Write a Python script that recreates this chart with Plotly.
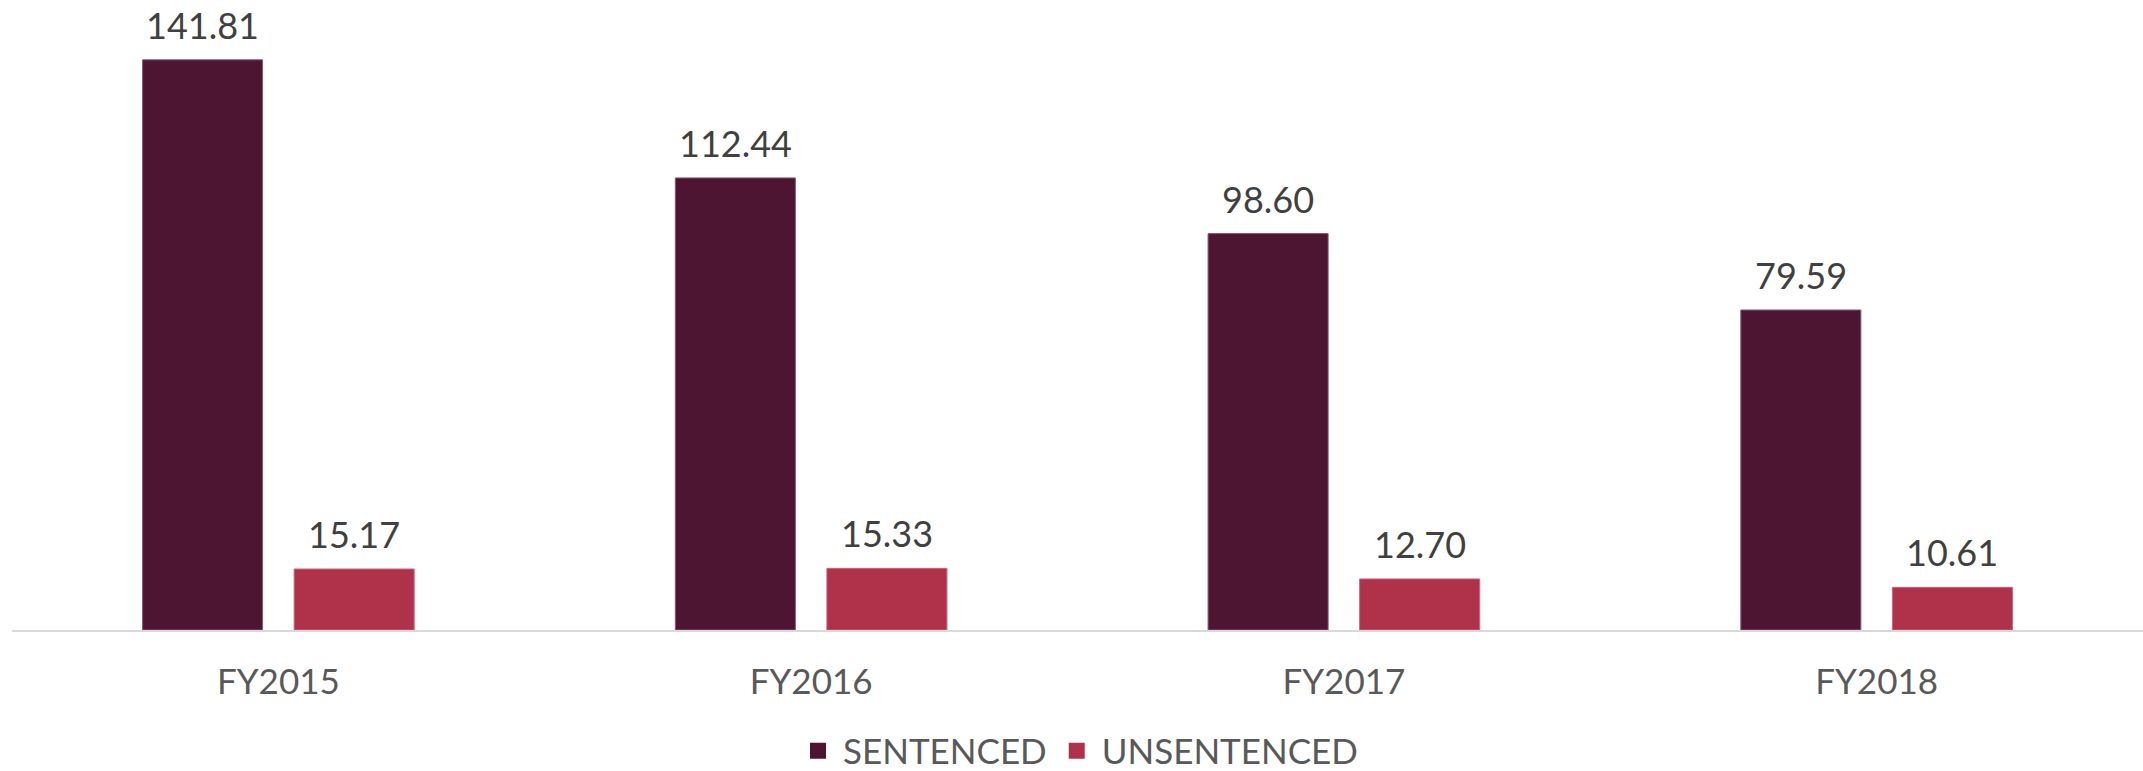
import plotly.graph_objects as go

categories = ["FY2015", "FY2016", "FY2017", "FY2018"]
sentenced = [141.81, 112.44, 98.60, 79.59]
unsentenced = [15.17, 15.33, 12.70, 10.61]
series_names = ["SENTENCED", "UNSENTENCED"]
series_colors = ["#4E1533", "#B0314A"]
edge_colors = ["#8a5a72", "#c9667a"]

FONT = "Lato"
BARGAP = 0.431
GROUPGAP = 0.208
W, H = 2143, 771
ML, MR, MT, MB = 12, 0, 10, 141

fig = go.Figure()
for name, vals, col, edge in zip(series_names, [sentenced, unsentenced], series_colors, edge_colors):
    fig.add_trace(go.Bar(
        x=categories, y=vals, name=name, showlegend=False,
        marker=dict(color=col, line=dict(color=edge, width=1)),
    ))
# legend entries with larger square swatches
for name, col in zip(series_names, series_colors):
    fig.add_trace(go.Scatter(
        x=[None], y=[None], mode="markers", name=name,
        marker=dict(symbol="square", size=20, color=col),
    ))

# value labels as annotations anchored to the data, shifted to each bar's slot
plot_w = W - ML - MR
slot = plot_w / len(categories) * (1 - BARGAP) / 2
for series, sign in ((sentenced, -1), (unsentenced, 1)):
    for c, v in zip(categories, series):
        fig.add_annotation(
            x=c, y=v, xref="x", yref="y", text=f"{v:.2f}", showarrow=False,
            xanchor="center", yanchor="bottom", xshift=sign * slot / 2, yshift=11,
            font=dict(family=FONT, size=36, color="#404040"),
        )

fig.update_layout(
    width=W, height=H,
    margin=dict(l=ML, r=MR, t=MT, b=MB),
    paper_bgcolor="white", plot_bgcolor="white",
    barmode="group", bargap=BARGAP, bargroupgap=GROUPGAP,
    font=dict(family=FONT, color="#595959"),
    showlegend=True,
    legend=dict(orientation="h", xref="container", yref="container",
                x=1078/2143, xanchor="center", y=(771-751)/771, yanchor="middle",
                font=dict(family=FONT, size=35, color="#595959"),
                itemwidth=40),
    xaxis=dict(showline=True, linecolor="#D9D9D9", linewidth=2,
               ticks="outside", ticklen=20, tickcolor="rgba(0,0,0,0)",
               tickfont=dict(family=FONT, size=35, color="#595959")),
    yaxis=dict(range=[0, 154.2], visible=False, showgrid=False),
)
fig.write_html("out.html", config={"displayModeBar": False},
               post_script="document.body.style.margin='0';document.body.style.overflow='hidden';")
